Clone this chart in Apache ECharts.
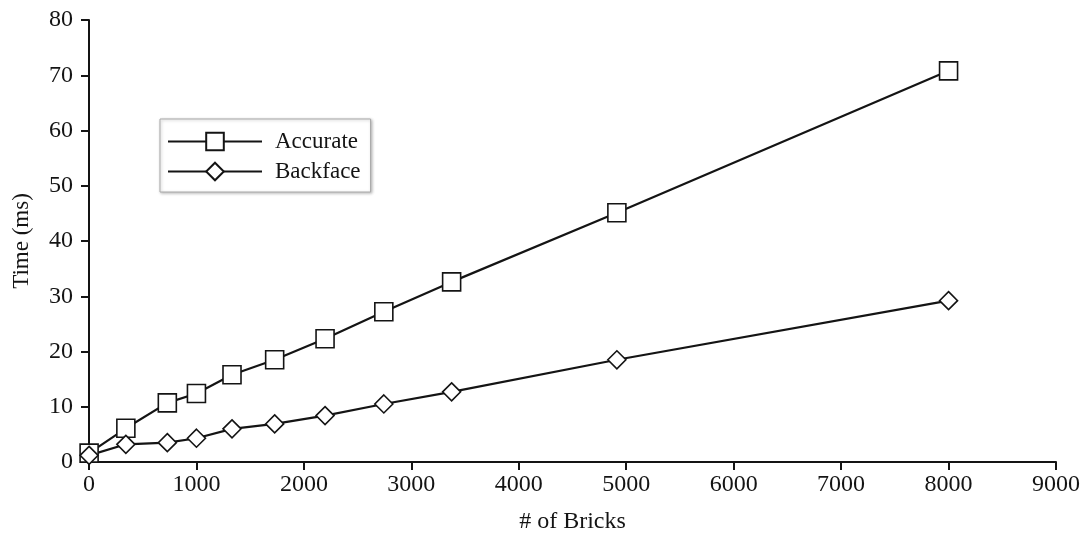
<!DOCTYPE html>
<html>
<head>
<meta charset="utf-8">
<script src="https://cdn.jsdelivr.net/npm/echarts@6/dist/echarts.min.js"></script>
<style>
  html, body { margin: 0; padding: 0; background: #fff; }
  #chart { width: 1083px; height: 533px; }
</style>
</head>
<body>
<div id="chart"></div>
<script>
// Number of bricks in the scene
const bricks = [1, 343, 729, 1000, 1331, 1728, 2197, 2744, 3375, 4913, 8000];
// Time per frame (ms) for each method
const accurate = [1.6, 6.1, 10.7, 12.4, 15.8, 18.5, 22.3, 27.2, 32.6, 45.1, 70.8];
const backface = [1.2, 3.2, 3.5, 4.3, 6.0, 6.9, 8.4, 10.5, 12.7, 18.5, 29.2];
const seriesNames = ['Accurate', 'Backface'];
const xTitle = '# of Bricks';
const yTitle = 'Time (ms)';

const FONT = '"Liberation Serif", "DejaVu Serif", serif';
const INK = '#141414';

function pairs(xs, ys) {
  return xs.map((x, i) => [x, ys[i]]);
}

function lineSeries(name, values, symbol, size) {
  return {
    name: name,
    type: 'line',
    data: pairs(bricks, values),
    symbol: symbol,
    symbolSize: size,
    showAllSymbol: true,
    lineStyle: { color: INK, width: 2.2 },
    itemStyle: { color: '#fff', borderColor: INK, borderWidth: 1.6 },
    emphasis: { disabled: true },
    animation: false
  };
}

const chart = echarts.init(document.getElementById('chart'), null, { renderer: 'canvas' });
chart.setOption({
  backgroundColor: '#fff',
  grid: { left: 89, right: 27, top: 20, bottom: 71, outerBoundsMode: 'none', containLabel: false },
  legend: {
    data: seriesNames,
    orient: 'vertical',
    left: 160,
    top: 119,
    itemWidth: 94,
    itemHeight: 22,
    itemGap: 7,
    padding: [11, 10, 9, 7],
    backgroundColor: '#fff',
    borderColor: '#aaa',
    borderWidth: 1,
    shadowBlur: 3,
    shadowColor: 'rgba(0,0,0,0.25)',
    shadowOffsetX: 1,
    shadowOffsetY: 1,
    textStyle: { fontFamily: FONT, fontSize: 23, color: INK, padding: [0, 0, 0, 8] }
  },
  xAxis: {
    type: 'value',
    min: 0,
    max: 9000,
    interval: 1000,
    name: xTitle,
    nameLocation: 'middle',
    nameGap: 48,
    nameTextStyle: { fontFamily: FONT, fontSize: 24, color: INK },
    axisLine: { show: true, onZero: false, lineStyle: { color: INK, width: 2 } },
    axisTick: { show: true, length: 8, lineStyle: { color: INK, width: 2 } },
    axisLabel: { fontFamily: FONT, fontSize: 24, color: INK, margin: 11, formatter: v => String(v) },
    splitLine: { show: false }
  },
  yAxis: {
    type: 'value',
    min: 0,
    max: 80,
    interval: 10,
    name: yTitle,
    nameLocation: 'middle',
    nameGap: 56,
    nameTextStyle: { fontFamily: FONT, fontSize: 23, color: INK },
    axisLine: { show: true, lineStyle: { color: INK, width: 2 } },
    axisTick: { show: true, length: 8, lineStyle: { color: INK, width: 2 } },
    axisLabel: { fontFamily: FONT, fontSize: 24, color: INK, margin: 16 },
    splitLine: { show: false }
  },
  series: [
    lineSeries(seriesNames[0], accurate, 'rect', 18),
    lineSeries(seriesNames[1], backface, 'diamond', 18)
  ]
});
</script>
</body>
</html>
